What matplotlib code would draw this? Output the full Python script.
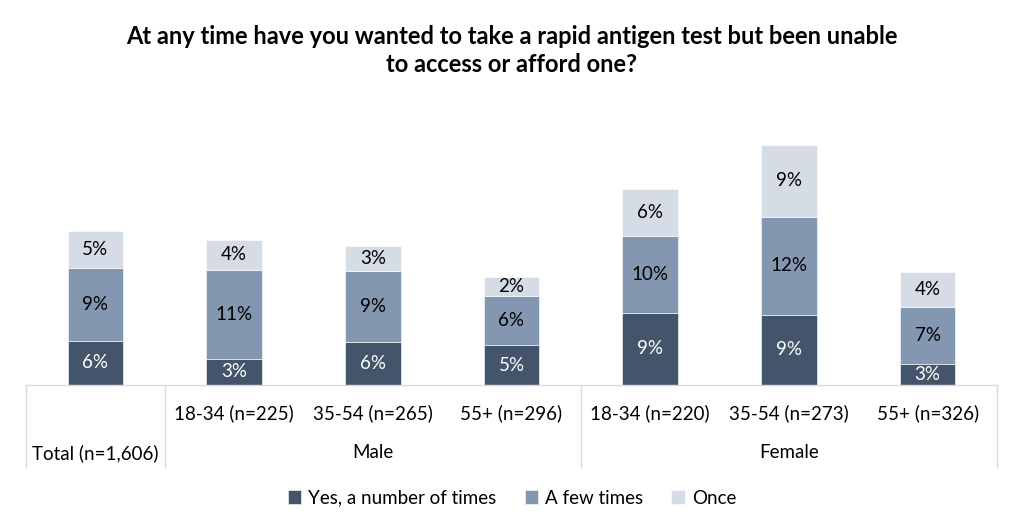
import matplotlib
matplotlib.use("Agg")
import matplotlib.pyplot as plt

plt.rcParams['font.family'] = ['Lato', 'DejaVu Sans']

# Данные (значения в %, оценены по высоте столбцов)
groups = ['Total (n=1,606)', 'Male', 'Male', 'Male', 'Female', 'Female', 'Female']
ages = ['', '18-34 (n=225)', '35-54 (n=265)', '55+ (n=296)',
        '18-34 (n=220)', '35-54 (n=273)', '55+ (n=326)']
series = ['Yes, a number of times', 'A few times', 'Once']
yes_many = [5.6, 3.3, 5.5, 5.0, 9.15, 8.9, 2.6]
few_times = [9.15, 11.3, 8.9, 6.3, 9.75, 12.4, 7.3]
once = [4.8, 3.8, 3.2, 2.4, 5.9, 9.1, 4.4]

colors = ['#44546a', '#8497b0', '#d6dce5']
text_colors = ['white', 'black', 'black']
grid_col = '#d9d9d9'

fig = plt.figure(figsize=(10.24, 5.32), dpi=100)
ax = fig.add_axes([26 / 1024, 1 - 385 / 532, (997 - 26) / 1024, 256 / 532])

x = list(range(len(ages)))
bottom = [0.0] * len(x)
for vals, col, tcol, name in zip([yes_many, few_times, once], colors, text_colors, series):
    ax.bar(x, vals, width=0.4, bottom=bottom, color=col, label=name,
           edgecolor='white', linewidth=0.4)
    for xi, b, v in zip(x, bottom, vals):
        ax.text(xi, b + v / 2, f'{v:.0f}%', ha='center', va='center',
                color=tcol, fontsize=13.5)
    bottom = [b + v for b, v in zip(bottom, vals)]

ax.set_xlim(-0.5, len(x) - 0.5)
ax.set_ylim(0, 32.4)
ax.set_xticks([])
ax.set_yticks([])
for s in ['top', 'left', 'right']:
    ax.spines[s].set_visible(False)
ax.spines['bottom'].set_color(grid_col)
ax.spines['bottom'].set_linewidth(1)

# Подписи категорий в два уровня
tr = ax.get_xaxis_transform()
row1 = -28 / 256
row2 = -68 / 256
for xi, a in zip(x, ages):
    if a:
        ax.text(xi, row1, a, transform=tr, ha='center', va='center', fontsize=13.5)
ax.text(0, row2, groups[0], transform=tr, ha='center', va='center', fontsize=13.5)
ax.text(2, row2, 'Male', transform=tr, ha='center', va='center', fontsize=13.5)
ax.text(5, row2, 'Female', transform=tr, ha='center', va='center', fontsize=13.5)

# Вертикальные разделители
for sx in [-0.5, 0.5, 3.5, 6.5]:
    ax.plot([sx, sx], [0, -82 / 256], transform=tr, color=grid_col, lw=1, clip_on=False)

fig.text(0.5, 1 - 36 / 532, 'At any time have you wanted to take a rapid antigen test but been unable',
         ha='center', va='center', fontsize=17, fontweight='bold')
fig.text(0.5, 1 - 65 / 532, 'to access or afford one?',
         ha='center', va='center', fontsize=17, fontweight='bold')

fig.legend(loc='center', bbox_to_anchor=(0.5, 1 - 498 / 532), ncol=3, frameon=False,
           fontsize=13.5, handlelength=0.7, handleheight=0.7, handletextpad=0.4,
           columnspacing=1.5)

fig.savefig('out.png', dpi=100)
